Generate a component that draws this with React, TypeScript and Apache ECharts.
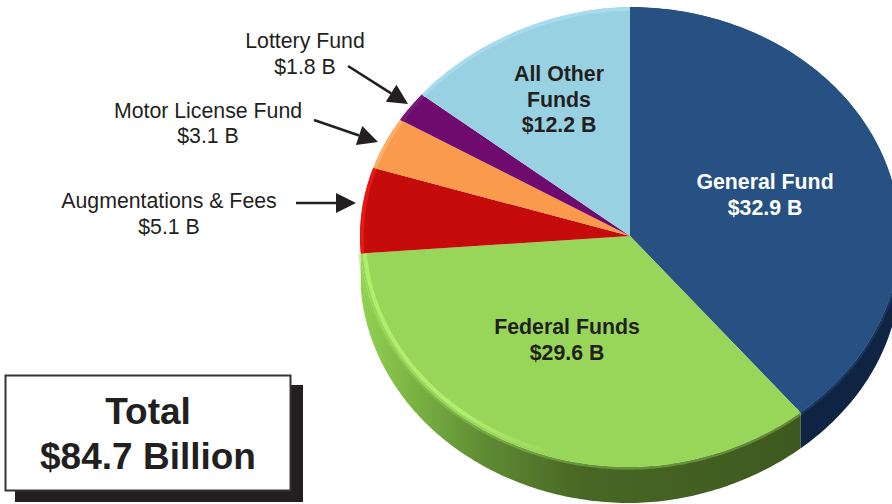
import React, { useEffect, useRef } from "react";
import * as echarts from "echarts";

const categories = ["General Fund", "Federal Funds", "Augmentations & Fees", "Motor License Fund", "Lottery Fund", "All Other Funds"];
const values = [32.9, 29.6, 5.1, 3.1, 1.8, 12.2];
const amounts = ["$32.9 B", "$29.6 B", "$5.1 B", "$3.1 B", "$1.8 B", "$12.2 B"];
const topColors = ["#275083", "#97d658", "#c60b0b", "#fa9a4c", "#6f0a6f", "#98d1e2"];
const rimColors = ["#275083", "#b2ee6e", "#ea1810", "#ffac66", "#7a187a", "#a6dcec"];
const totalLines = ["Total", "$84.7 Billion"];

const FONT = '"Liberation Sans", Arial, sans-serif';
const CX = 630, CY = 236, RX = 270, RY_UP = 229, RY_DOWN = 231, DEPTH = 36;
const INK = "#231f20";
const TAU = Math.PI * 2;
const sum = values.reduce((a, b) => a + b, 0);

// Slice bounds, in radians clockwise from 12 o'clock.
function bounds(i: number, v: number) {
  let acc = 0;
  for (let k = 0; k < i; k++) acc += values[k];
  const s = (acc / sum) * TAU;
  return [s, s + (v / sum) * TAU];
}

// Point on the rim of the (slightly perspective-flattened) disc.
function rim(t: number, inset = 0, dy = 0) {
  const sin = Math.sin(t), cos = Math.cos(t);
  const p = sin < 0 && cos > 0 ? 1.08 : sin > 0 && cos < 0 ? 1.05 : 1;
  const x = CX + Math.sign(sin) * (RX - inset) * Math.pow(Math.abs(sin), p);
  const y = CY - (cos > 0 ? RY_UP - inset : RY_DOWN - inset) * cos + dy;
  return [x, y];
}

function arcPoints(s: number, e: number, inset = 0, dy = 0) {
  const n = Math.max(2, Math.ceil((e - s) / 0.015));
  const pts: number[][] = [];
  for (let j = 0; j <= n; j++) pts.push(rim(s + ((e - s) * j) / n, inset, dy));
  return pts;
}

const greenSide = () =>
  new echarts.graphic.LinearGradient(0, 0, 1, 0, [
    { offset: 0, color: "#92d254" },
    { offset: 0.1, color: "#7eb845" },
    { offset: 0.28, color: "#5f8b33" },
    { offset: 0.5, color: "#486725" },
    { offset: 1, color: "#3e591f" },
  ]);

function arrow(x1: number, y1: number, x2: number, y2: number) {
  const len = Math.hypot(x2 - x1, y2 - y1);
  const ux = (x2 - x1) / len, uy = (y2 - y1) / len;
  const bx = x2 - ux * 20, by = y2 - uy * 20;
  return [
    { type: "line", silent: true, shape: { x1, y1, x2: bx, y2: by }, style: { stroke: INK, lineWidth: 2.6 } },
    {
      type: "polygon", silent: true,
      shape: { points: [[x2, y2], [bx - uy * 10, by + ux * 10], [bx + uy * 10, by - ux * 10]] },
      style: { fill: INK },
    },
  ];
}

function label(text: string, x: number, y: number, bold: boolean, fill: string, size = 21.3, lineHeight = 25.5) {
  return {
    type: "text", silent: true, x, y, z: 10,
    style: {
      text, fill, font: `${bold ? "bold " : ""}${size}px ${FONT}`,
      textAlign: "center", textVerticalAlign: "middle", lineHeight,
    },
  };
}

export default function App() {
  const ref = useRef<HTMLDivElement>(null);
  useEffect(() => {
    document.body.style.margin = "0";
    const chart = echarts.init(ref.current!, undefined, { renderer: "svg" });
    const data = values.map((v, i) => ({ name: categories[i], value: v }));
    const lbl = (i: number) => `${categories[i]}\n${amounts[i]}`;
    chart.setOption({
      animation: false,
      series: [
        {
          // Extruded wall: only the two large slices reach the lower half of the disc.
          type: "custom", coordinateSystem: "none", silent: true, data, z: 1,
          renderItem: (p: any, api: any) => {
            const i = p.dataIndex;
            if (i > 1) return null;
            const [s0, e] = bounds(i, api.value(0));
            const s = Math.max(s0, Math.PI / 2);
            const top = arcPoints(s, e);
            const bottom = arcPoints(s, e, 0, DEPTH).reverse();
            return {
              type: "polygon",
              shape: { points: [...top, ...bottom] },
              style: { fill: i === 0 ? "#0e2442" : greenSide() },
            };
          },
        },
        {
          type: "custom", coordinateSystem: "none", silent: true, data, z: 2,
          renderItem: (p: any, api: any) => {
            const i = p.dataIndex;
            const [s, e] = bounds(i, api.value(0));
            const rimStroke = i === 1
              ? new echarts.graphic.LinearGradient(0, 0, 1, 0, [
                  { offset: 0, color: rimColors[1] },
                  { offset: 0.22, color: rimColors[1] },
                  { offset: 0.45, color: topColors[1] },
                  { offset: 1, color: topColors[1] },
                ])
              : rimColors[i];
            return {
              type: "group",
              children: [
                // soft edge between disc and wall
                ...(i < 2
                  ? [{
                      type: "polyline",
                      shape: { points: arcPoints(Math.max(s, Math.PI / 2), e, -1.2) },
                      style: { fill: null, stroke: topColors[i], lineWidth: 3, opacity: 0.4 },
                    }]
                  : []),
                {
                  type: "polygon",
                  shape: { points: [[CX, CY], ...arcPoints(s, e)] },
                  style: { fill: topColors[i] },
                },
                {
                  type: "polyline",
                  shape: { points: arcPoints(s, e, i === 1 ? 4 : 2) },
                  style: { fill: null, stroke: rimStroke, lineWidth: i === 1 ? 4 : 3.5 },
                },
              ],
            };
          },
        },
      ],
      graphic: [
        label(lbl(0), 765, 195, true, "#ffffff"),
        label(lbl(1), 567, 340, true, INK),
        label("All Other\nFunds\n" + amounts[5], 559, 99.5, true, INK),
        label(lbl(4), 305, 54, false, INK),
        label(lbl(3), 208, 123.5, false, INK),
        label(lbl(2), 169, 214, false, INK),
        ...arrow(348, 66, 408, 104),
        ...arrow(314, 120, 378, 142),
        ...arrow(296, 203, 356, 203),
        { type: "rect", silent: true, z: 5, shape: { x: 15, y: 385, width: 288, height: 117 }, style: { fill: INK } },
        { type: "rect", silent: true, z: 6, shape: { x: 5.5, y: 375.5, width: 285, height: 115 }, style: { fill: "#fff", stroke: "#333", lineWidth: 2 } },
        label(totalLines.join("\n"), 148, 434, true, INK, 37, 44.5),
      ],
    });
    return () => chart.dispose();
  }, []);
  return <div ref={ref} style={{ position: "absolute", left: 0, top: 0, width: 892, height: 504 }} />;
}
